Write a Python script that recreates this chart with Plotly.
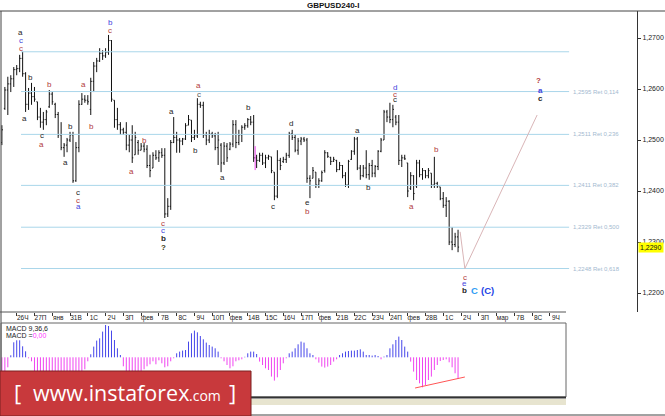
import plotly.graph_objects as go

W, H = 665, 416
FONT = "Liberation Sans"

# ---------------- data ----------------
bar_open = [
    1.2495, 1.2562, 1.2598, 1.2610, 1.2620, 1.2638, 1.2640, 1.2660, 1.2630, 1.2570,
    1.2592, 1.2585, 1.2575, 1.2545, 1.2535, 1.2540, 1.2565, 1.2590, 1.2570, 1.2550,
    1.2510, 1.2485, 1.2490, 1.2500, 1.2510, 1.2420, 1.2485, 1.2570, 1.2580, 1.2578,
    1.2560, 1.2615, 1.2645, 1.2655, 1.2670, 1.2665, 1.2672, 1.2695, 1.2578, 1.2540,
    1.2530, 1.2520, 1.2515, 1.2490, 1.2500, 1.2471, 1.2495, 1.2480, 1.2488, 1.2482,
    1.2450, 1.2445, 1.2470, 1.2465, 1.2475, 1.2470, 1.2355, 1.2370, 1.2495, 1.2505,
    1.2500, 1.2498, 1.2502, 1.2529, 1.2539, 1.2505, 1.2508, 1.2570, 1.2568, 1.2510,
    1.2500, 1.2512, 1.2508, 1.2485, 1.2490, 1.2455, 1.2488, 1.2482, 1.2492, 1.2530,
    1.2495, 1.2510, 1.2525, 1.2528, 1.2540, 1.2535, 1.2465, 1.2460, 1.2470, 1.2455,
    1.2465, 1.2467, 1.2437, 1.2390, 1.2460, 1.2458, 1.2462, 1.2470, 1.2512, 1.2505,
    1.2480, 1.2498, 1.2502, 1.2500, 1.2425, 1.2425, 1.2437, 1.2412, 1.2420, 1.2440,
    1.2475, 1.2466, 1.2458, 1.2460, 1.2442, 1.2450, 1.2430, 1.2412, 1.2462, 1.2478,
    1.2502, 1.2445, 1.2430, 1.2445, 1.2432, 1.2450, 1.2435, 1.2448, 1.2478, 1.2500,
    1.2555, 1.2545, 1.2540, 1.2545, 1.2535, 1.2460, 1.2465, 1.2455, 1.2405, 1.2430,
    1.2410, 1.2455, 1.2432, 1.2440, 1.2430, 1.2435, 1.2412, 1.2415, 1.2408, 1.2385,
    1.2372, 1.2380, 1.2300, 1.2295, 1.2310,
]
bar_high = [
    1.2529, 1.2604, 1.2624, 1.2627, 1.2643, 1.2647, 1.2667, 1.2673, 1.2633, 1.2602,
    1.2612, 1.2604, 1.2575, 1.2563, 1.2555, 1.2559, 1.2598, 1.2594, 1.2573, 1.2555,
    1.2535, 1.2494, 1.2504, 1.2516, 1.2516, 1.2496, 1.2578, 1.2592, 1.2588, 1.2588,
    1.2622, 1.2653, 1.2661, 1.2680, 1.2676, 1.2680, 1.2706, 1.2696, 1.2578, 1.2563,
    1.2535, 1.2524, 1.2535, 1.2510, 1.2529, 1.2516, 1.2500, 1.2494, 1.2494, 1.2490,
    1.2471, 1.2476, 1.2480, 1.2480, 1.2484, 1.2484, 1.2386, 1.2500, 1.2545, 1.2516,
    1.2504, 1.2504, 1.2533, 1.2549, 1.2539, 1.2520, 1.2582, 1.2575, 1.2575, 1.2516,
    1.2520, 1.2516, 1.2514, 1.2516, 1.2494, 1.2496, 1.2494, 1.2496, 1.2539, 1.2539,
    1.2520, 1.2529, 1.2533, 1.2543, 1.2547, 1.2549, 1.2471, 1.2475, 1.2475, 1.2471,
    1.2471, 1.2467, 1.2437, 1.2480, 1.2465, 1.2467, 1.2475, 1.2516, 1.2520, 1.2510,
    1.2504, 1.2506, 1.2506, 1.2504, 1.2431, 1.2447, 1.2437, 1.2425, 1.2440, 1.2480,
    1.2476, 1.2467, 1.2467, 1.2461, 1.2457, 1.2451, 1.2437, 1.2461, 1.2480, 1.2506,
    1.2506, 1.2451, 1.2451, 1.2480, 1.2455, 1.2461, 1.2451, 1.2480, 1.2504, 1.2559,
    1.2559, 1.2573, 1.2569, 1.2549, 1.2549, 1.2471, 1.2471, 1.2455, 1.2437, 1.2431,
    1.2461, 1.2461, 1.2445, 1.2441, 1.2445, 1.2435, 1.2467, 1.2418, 1.2408, 1.2398,
    1.2388, 1.2382, 1.2329, 1.2318, 1.2324,
]
bar_low = [
    1.2490, 1.2559, 1.2549, 1.2594, 1.2604, 1.2627, 1.2633, 1.2624, 1.2555, 1.2559,
    1.2569, 1.2575, 1.2539, 1.2524, 1.2520, 1.2529, 1.2563, 1.2569, 1.2543, 1.2504,
    1.2480, 1.2467, 1.2476, 1.2496, 1.2416, 1.2418, 1.2476, 1.2569, 1.2573, 1.2569,
    1.2549, 1.2594, 1.2633, 1.2653, 1.2657, 1.2661, 1.2667, 1.2575, 1.2524, 1.2520,
    1.2510, 1.2510, 1.2480, 1.2476, 1.2455, 1.2471, 1.2471, 1.2480, 1.2476, 1.2445,
    1.2427, 1.2445, 1.2461, 1.2457, 1.2465, 1.2347, 1.2349, 1.2363, 1.2494, 1.2475,
    1.2475, 1.2490, 1.2500, 1.2529, 1.2496, 1.2500, 1.2504, 1.2563, 1.2504, 1.2490,
    1.2494, 1.2504, 1.2480, 1.2451, 1.2437, 1.2451, 1.2457, 1.2480, 1.2486, 1.2484,
    1.2490, 1.2496, 1.2520, 1.2524, 1.2529, 1.2457, 1.2445, 1.2457, 1.2451, 1.2445,
    1.2461, 1.2435, 1.2382, 1.2386, 1.2441, 1.2455, 1.2455, 1.2465, 1.2500, 1.2476,
    1.2471, 1.2490, 1.2496, 1.2416, 1.2386, 1.2425, 1.2406, 1.2406, 1.2418, 1.2436,
    1.2465, 1.2451, 1.2457, 1.2437, 1.2441, 1.2425, 1.2408, 1.2406, 1.2461, 1.2471,
    1.2441, 1.2422, 1.2427, 1.2425, 1.2422, 1.2427, 1.2427, 1.2441, 1.2476, 1.2500,
    1.2535, 1.2533, 1.2525, 1.2529, 1.2451, 1.2447, 1.2461, 1.2388, 1.2402, 1.2382,
    1.2406, 1.2427, 1.2422, 1.2425, 1.2425, 1.2406, 1.2406, 1.2406, 1.2382, 1.2367,
    1.2349, 1.2294, 1.2284, 1.2290, 1.2280,
]
bar_close = [
    1.2520, 1.2598, 1.2610, 1.2620, 1.2638, 1.2640, 1.2660, 1.2630, 1.2570, 1.2592,
    1.2585, 1.2580, 1.2545, 1.2535, 1.2540, 1.2555, 1.2590, 1.2575, 1.2550, 1.2510,
    1.2485, 1.2490, 1.2500, 1.2510, 1.2420, 1.2485, 1.2570, 1.2580, 1.2578, 1.2575,
    1.2615, 1.2645, 1.2655, 1.2670, 1.2665, 1.2672, 1.2695, 1.2580, 1.2540, 1.2530,
    1.2520, 1.2515, 1.2490, 1.2500, 1.2465, 1.2505, 1.2480, 1.2488, 1.2482, 1.2450,
    1.2440, 1.2470, 1.2465, 1.2475, 1.2470, 1.2355, 1.2370, 1.2495, 1.2505, 1.2500,
    1.2498, 1.2502, 1.2528, 1.2540, 1.2505, 1.2508, 1.2570, 1.2568, 1.2510, 1.2500,
    1.2512, 1.2508, 1.2485, 1.2500, 1.2455, 1.2488, 1.2465, 1.2492, 1.2530, 1.2495,
    1.2510, 1.2525, 1.2528, 1.2540, 1.2535, 1.2465, 1.2460, 1.2470, 1.2455, 1.2465,
    1.2468, 1.2440, 1.2390, 1.2460, 1.2450, 1.2462, 1.2470, 1.2512, 1.2505, 1.2480,
    1.2498, 1.2502, 1.2500, 1.2425, 1.2420, 1.2440, 1.2412, 1.2420, 1.2436, 1.2475,
    1.2468, 1.2458, 1.2462, 1.2442, 1.2450, 1.2430, 1.2412, 1.2458, 1.2478, 1.2502,
    1.2445, 1.2430, 1.2445, 1.2432, 1.2450, 1.2435, 1.2448, 1.2478, 1.2500, 1.2555,
    1.2545, 1.2540, 1.2560, 1.2535, 1.2460, 1.2465, 1.2463, 1.2400, 1.2430, 1.2395,
    1.2455, 1.2432, 1.2440, 1.2430, 1.2440, 1.2412, 1.2415, 1.2410, 1.2385, 1.2372,
    1.2380, 1.2300, 1.2295, 1.2310, 1.2290,
]
# MACD(9,36,6) histogram, in 0.1 pip units
macd_hist = [
    -16, -14, -10, 2, 15, 17, 17, 11, 6, -1,
    -4, -16, -18, -19, -20, -20, -19, -18, -18, -19,
    -21, -22, -22, -21, -22, -22, -18, -15, -12, -4,
    3, 10.7, 16.7, 19, 25.7, 32.3, 31.3, 26.7, 17.3, 9,
    2.3, -9, -15, -17, -18, -17, -16, -15, -12, -9,
    -7, -4, -7, -3, -6, -10, -9, -4, -1, 4,
    5.7, 6.7, 7.3, 15.7, 24, 26.7, 25, 21.3, 18, 14.7,
    12.3, 10.7, 9, 5.7, -1, -4, -7.7, -11, -9, -4,
    -3, -2, 0.5, 4, 5.7, 5.7, 3.3, -4.3, -7.7, -11,
    -12.7, -19.3, -23.3, -20, -12.7, -6, -1, 4, 5.7, 9,
    13, 15.7, 14.7, 9, 4, 2.3, -2, -5.3, -9.3, -10.3,
    -9.3, -7.7, -4.3, -2, 2.3, 4, 5.7, 6.3, 6.7, 6.7,
    7.3, 8, 5.7, 2.3, 2.3, 1.7, 2.3, 1.3, -2, 0.7,
    2.3, 9, 13, 17.3, 20.7, 17.3, 10.7, 5.7, -4.3, -14.3,
    -22.7, -26, -30, -27.7, -22.7, -19.3, -12.7, -7.7, -3.7, -2.7,
    -2, -5, -10, -16, -21.7,
]
day_tick_bars = [5, 11, 17, 23, 29, 35, 41, 47, 53, 59, 65, 71, 77, 83, 89, 95,
                 101, 107, 113, 119, 125, 131, 137, 143, 149, 155, 161, 167, 173, 179, 185]
day_tick_labels = ["26Ч", "27П", "янв", "31В", "1С", "2Ч", "3П", "фев", "7В", "8С", "9Ч",
                   "10П", "фев", "14В", "15С", "16Ч", "17П", "фев", "21В", "22С", "23Ч",
                   "24П", "фев", "28В", "1С", "2Ч", "3П", "мар", "7В", "8С", "9Ч"]
price_ticks = [1.2200, 1.2300, 1.2400, 1.2500, 1.2600, 1.2700]
fib_levels = [1.2673, 1.2595, 1.2511, 1.2411, 1.2329, 1.2248]
fib_labels = ["", "1,2595 Ret 0,114", "1,2511 Ret 0,236", "1,2411 Ret 0,382",
              "1,2329 Ret 0,500", "1,2248 Ret 0,618"]
fib_span_bars = [6.45, 191.5]
projection_bars = [154.7, 156.3, 180.7]
projection_prices = [1.2320, 1.2248, 1.2549]
marker_line_bar = 85.5
marker_line_prices = [1.2488, 1.2441]
divergence_bars = [139.5, 156.3]
divergence_values = [-30.7, -19.7]
current_price = 1.2290

# wave labels: text, colour key, bar index, price
wave_labels = [
    ("a", "k", 6.4, 1.2710), ("c", "b", 6.4, 1.2696), ("c", "r", 6.4, 1.2680),
    ("b", "k", 9.5, 1.2622), ("a", "k", 7.5, 1.2543), ("b", "r", 16.2, 1.2608),
    ("c", "k", 13.5, 1.2508), ("a", "r", 13.5, 1.2492), ("b", "k", 23.3, 1.2526),
    ("a", "k", 21.6, 1.2455), ("c", "k", 25.7, 1.2398), ("c", "r", 25.7, 1.2382),
    ("a", "b", 25.7, 1.2369), ("a", "r", 27.4, 1.2608), ("b", "r", 30.4, 1.2526),
    ("b", "b", 36.5, 1.2731), ("c", "r", 36.5, 1.2714), ("a", "r", 43.6, 1.2439),
    ("b", "r", 48.3, 1.2500), ("c", "r", 54.4, 1.2337), ("c", "b", 54.4, 1.2322),
    ("<b>b</b>", "k", 54.4, 1.2306), ("<b>?</b>", "y", 54.4, 1.2290),
    ("a", "k", 57.4, 1.2555), ("a", "r", 66.5, 1.2606), ("c", "g", 66.5, 1.2590),
    ("b", "k", 65.5, 1.2480), ("a", "k", 74.6, 1.2426), ("b", "k", 83.4, 1.2563),
    ("d", "k", 97.6, 1.2533), ("c", "k", 91.5, 1.2369), ("e", "k", 103.3, 1.2377),
    ("b", "r", 103.3, 1.2359), ("a", "k", 119.9, 1.2518), ("d", "b", 132.7, 1.2602),
    ("c", "r", 132.7, 1.2590), ("c", "k", 132.7, 1.2579), ("b", "k", 123.6, 1.2406),
    ("a", "r", 138.4, 1.2369), ("b", "r", 146.6, 1.2482), ("c", "r", 156.3, 1.2231),
    ("e", "b", 156.3, 1.2218), ("<b>b</b>", "k", 156.3, 1.2204),
    ("<b>?</b>", "r", 181.3, 1.2616), ("<b>a</b>", "b", 181.7, 1.2598),
    ("<b>c</b>", "k", 181.7, 1.2582),
]
big_labels = [("<b>C</b>", "#2f9cf4", 159.6, 1.2204), ("<b>(C)</b>", "#2343e6", 163.8, 1.2204)]

# ---------------- geometry of the reference ----------------
BAR0_PX, BAR_STEP_PX = 1.9, 2.962
PRICE_TOP, PRICE_BOTTOM = 1.275294, 1.216275
MACD_TOP, MACD_BOTTOM = 34.3, -39.7
LABEL_COLORS = {"k": "#262626", "r": "#b23b3b", "b": "#4444dd", "g": "#555555", "y": "#3a3a10"}


def u_at(px):
    return (px - BAR0_PX) / BAR_STEP_PX


def fx(px):
    return px / W


def fy(py):
    return 1 - py / H


n = len(bar_close)
bar_index = list(range(n))

fig = go.Figure()

# fib levels
fx_l, fy_l = [], []
for lv in fib_levels:
    fx_l += [fib_span_bars[0], fib_span_bars[1], None]
    fy_l += [lv, lv, None]
fig.add_trace(go.Scatter(x=fx_l, y=fy_l, mode="lines", line=dict(color="#a9d6ea", width=1),
                         hoverinfo="skip", showlegend=False))

# projection line
fig.add_trace(go.Scatter(x=projection_bars, y=projection_prices, mode="lines",
                         line=dict(color="#d9b5b7", width=1), hoverinfo="skip", showlegend=False))

# price bars
fig.add_trace(go.Ohlc(x=bar_index, open=bar_open, high=bar_high, low=bar_low, close=bar_close,
                      increasing=dict(line=dict(color="#111111", width=1)),
                      decreasing=dict(line=dict(color="#111111", width=1)),
                      tickwidth=0.35, hoverinfo="skip", showlegend=False))

fig.add_trace(go.Scatter(x=[marker_line_bar, marker_line_bar], y=marker_line_prices, mode="lines",
                         line=dict(color="#ee44ee", width=1), hoverinfo="skip", showlegend=False))

# MACD histogram
px_, py_, nx_, ny_ = [], [], [], []
for i, v in enumerate(macd_hist):
    if v >= 0:
        px_ += [i, i, None]
        py_ += [0, v, None]
    else:
        nx_ += [i, i, None]
        ny_ += [0, v, None]
fig.add_trace(go.Scatter(x=px_, y=py_, mode="lines", line=dict(color="#4646ea", width=1),
                         xaxis="x2", yaxis="y2", hoverinfo="skip", showlegend=False))
fig.add_trace(go.Scatter(x=nx_, y=ny_, mode="lines", line=dict(color="#f044f0", width=1),
                         xaxis="x2", yaxis="y2", hoverinfo="skip", showlegend=False))
fig.add_trace(go.Scatter(x=divergence_bars, y=divergence_values, mode="lines",
                         line=dict(color="#ff5555", width=1),
                         xaxis="x2", yaxis="y2", hoverinfo="skip", showlegend=False))

# ---------------- annotations ----------------
ann = []
for text, col, u, p in wave_labels:
    ann.append(dict(x=u, y=p, xref="x", yref="y", text=text, showarrow=False,
                    font=dict(family=FONT, size=8, color=LABEL_COLORS[col]),
                    xanchor="center", yanchor="middle"))
for text, col, u, p in big_labels:
    ann.append(dict(x=u, y=p, xref="x", yref="y", text=text, showarrow=False,
                    font=dict(family=FONT, size=9.5, color=col),
                    xanchor="center", yanchor="middle"))
for lv, lab in zip(fib_levels, fib_labels):
    if lab:
        ann.append(dict(x=fx(571), y=lv, xref="paper", yref="y", text=lab, showarrow=False,
                        font=dict(family=FONT, size=6, color="#a3b9cf"),
                        xanchor="left", yanchor="middle"))
ann.append(dict(x=fx(638), y=current_price, xref="paper", yref="y",
                text="1,2290", showarrow=False, bgcolor="#ffff00", borderpad=1,
                font=dict(family=FONT, size=7, color="#111111"),
                xanchor="left", yanchor="middle"))
ann.append(dict(x=fx(333), y=fy(5.5), xref="paper", yref="paper", text="<b>GBPUSD240-I</b>",
                showarrow=False, font=dict(family=FONT, size=8, color="#111111"),
                xanchor="center", yanchor="middle"))
ann.append(dict(x=fx(4), y=fy(328), xref="paper", yref="paper", text="MACD 9,36,6",
                showarrow=False, font=dict(family=FONT, size=7, color="#222222"),
                xanchor="left", yanchor="middle"))
ann.append(dict(x=fx(4), y=fy(335.5), xref="paper", yref="paper",
                text="MACD =<span style='color:#ff33ff'>0,00</span>",
                showarrow=False, font=dict(family=FONT, size=7, color="#222222"),
                xanchor="left", yanchor="middle"))
# banner text
ann.append(dict(x=fx(17), y=fy(392), xref="paper", yref="paper", text="[", showarrow=False,
                font=dict(family="Open Sans", size=22, color="white"), xanchor="center", yanchor="middle"))
ann.append(dict(x=fx(31), y=fy(392), xref="paper", yref="paper", text="www.instaforex", showarrow=False,
                font=dict(family="Open Sans", size=21.5, color="white"), xanchor="left", yanchor="middle"))
ann.append(dict(x=fx(187), y=fy(395.5), xref="paper", yref="paper", text=".com", showarrow=False,
                font=dict(family="Open Sans", size=14, color="white"), xanchor="left", yanchor="middle"))
ann.append(dict(x=fx(232), y=fy(392), xref="paper", yref="paper", text="]", showarrow=False,
                font=dict(family="Open Sans", size=22, color="white"), xanchor="center", yanchor="middle"))

# ---------------- frame shapes ----------------
def pline(x0, y0, x1, y1, color="#333333", width=1):
    return dict(type="line", xref="paper", yref="paper", x0=fx(x0), y0=fy(y0), x1=fx(x1), y1=fy(y1),
                line=dict(color=color, width=width))


shapes = [
    pline(0, 11, 665, 11, "#444444"),
    pline(1, 11, 1, 416, "#444444"),
    pline(0, 415, 665, 415, "#444444"),
    pline(0, 312, 566, 312, "#555555"),
    dict(type="rect", xref="paper", yref="paper", x0=fx(1), x1=fx(566), y0=fy(397), y1=fy(323),
         line=dict(color="#666666", width=1)),
    pline(1, 397.5, 566, 397.5, "#333333", 2),
    dict(type="rect", xref="paper", yref="paper", x0=fx(1), x1=fx(566), y0=fy(405), y1=fy(399),
         fillcolor="#e7e4cf", line=dict(width=0)),
    dict(type="rect", xref="paper", yref="paper", x0=fx(0), x1=fx(251), y0=fy(416), y1=fy(371),
         fillcolor="#c8393c", line=dict(color="#7a2020", width=1)),
]

fig.update_layout(
    width=W, height=H, margin=dict(l=0, r=0, t=0, b=0),
    paper_bgcolor="white", plot_bgcolor="white", separators=", ",
    showlegend=False, hovermode=False,
    xaxis=dict(domain=[fx(1), fx(637)], range=[u_at(1), u_at(637)], anchor="y",
               tickvals=day_tick_bars, ticktext=day_tick_labels, ticks="outside", ticklen=3,
               tickcolor="#333333", ticklabelshift=6, ticklabelstandoff=-4,
               tickfont=dict(family=FONT, size=6.5, color="#222222"),
               showgrid=False, zeroline=False, showline=False, automargin=False,
               rangeslider=dict(visible=False), fixedrange=True),
    yaxis=dict(domain=[fy(312), fy(11)], range=[PRICE_BOTTOM, PRICE_TOP], anchor="x", side="right",
               tickvals=price_ticks, tickformat=".4f", ticks="outside", ticklen=3, tickcolor="#333333",
               showline=True, linecolor="#333333", linewidth=1,
               tickfont=dict(family=FONT, size=7, color="#222222"),
               showgrid=False, zeroline=False, automargin=False, fixedrange=True),
    xaxis2=dict(domain=[fx(1), fx(566)], range=[u_at(1), u_at(566)], anchor="y2", visible=False,
                fixedrange=True),
    yaxis2=dict(domain=[fy(397), fy(323)], range=[MACD_BOTTOM, MACD_TOP], anchor="x2", visible=False,
                fixedrange=True),
    annotations=ann, shapes=shapes,
)

fig.write_html("out.html", config={"displayModeBar": False},
               post_script="document.body.style.margin='0';document.body.style.overflow='hidden';")
